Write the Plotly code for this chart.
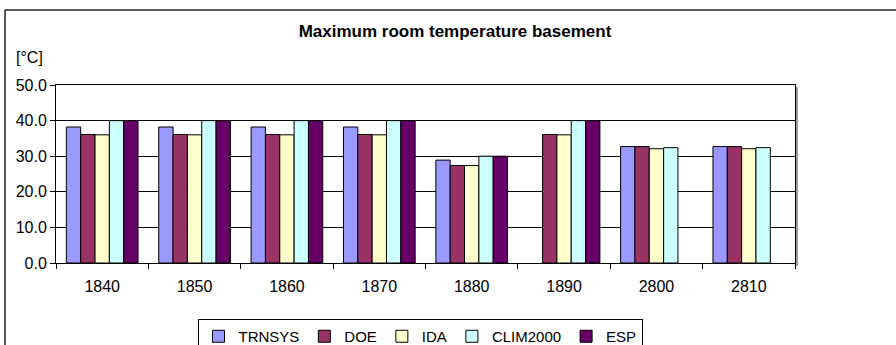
import plotly.graph_objects as go

# Category labels (simulation cases)
cases = ["1840", "1850", "1860", "1870", "1880", "1890", "2800", "2810"]

# Maximum basement room temperature per program [°C]; None = no result
trnsys = [38.2, 38.2, 38.2, 38.2, 28.9, None, 32.7, 32.7]
doe = [36.1, 36.1, 36.1, 36.1, 27.4, 36.1, 32.7, 32.7]
ida = [36.0, 36.0, 36.0, 36.0, 27.4, 36.0, 32.1, 32.1]
clim2000 = [40.0, 40.0, 40.0, 40.0, 30.0, 40.0, 32.4, 32.4]
esp = [40.0, 40.0, 40.0, 40.0, 30.0, 40.0, None, None]

series = [
    ("TRNSYS", trnsys, "#9999FF"),
    ("DOE", doe, "#993366"),
    ("IDA", ida, "#FFFFCC"),
    ("CLIM2000", clim2000, "#CCFFFF"),
    ("ESP", esp, "#660066"),
]

FONT = "Liberation Sans, Arial, sans-serif"

fig = go.Figure()
for name, vals, color in series:
    fig.add_trace(go.Bar(
        name=name, x=cases, y=vals,
        marker=dict(color=color, line=dict(color="black", width=1)),
    ))

W, H = 896, 345
L, R, T, B = 56, 101, 85, 82
pw, ph = W - L - R, H - T - B


def px(x):
    return (x - L) / pw


def py(y):
    return (H - B - y) / ph


fig.update_layout(
    width=W, height=H,
    margin=dict(l=L, r=R, t=T, b=B, autoexpand=False),
    paper_bgcolor="white", plot_bgcolor="white",
    barmode="group", bargap=0.224, bargroupgap=0,
    font=dict(family=FONT, size=16, color="black"),
    title=dict(
        text="<b>Maximum room temperature basement</b>",
        x=455 / W, xanchor="center", y=1 - 31 / H, yanchor="middle",
        font=dict(family=FONT, size=17, color="black"),
    ),
    showlegend=True,
    legend=dict(
        orientation="h", x=px(420), xanchor="center", y=py(319), yanchor="top",
        bordercolor="black", borderwidth=1, bgcolor="white",
        font=dict(family=FONT, size=15, color="black"),
        itemwidth=30, tracegroupgap=0,
    ),
    xaxis=dict(
        showline=True, linecolor="black", linewidth=1, mirror=True,
        ticks="outside", ticklen=5, tickcolor="black", tickson="boundaries",
        showgrid=False, tickfont=dict(size=16), ticklabelstandoff=9,
    ),
    yaxis=dict(
        range=[0, 50], dtick=10, tickformat=".1f",
        showline=True, linecolor="black", linewidth=1, mirror=True,
        ticks="outside", ticklen=5, tickcolor="black",
        showgrid=True, gridcolor="black", gridwidth=1,
        zeroline=False, tickfont=dict(size=16),
    ),
    annotations=[dict(
        text="[°C]", xref="paper", yref="paper",
        x=px(14), xanchor="left", y=py(58), yanchor="middle",
        showarrow=False, font=dict(family=FONT, size=16, color="black"),
    )],
    shapes=[
        # outer chart frame (left and top edges)
        dict(type="line", xref="paper", yref="paper",
             x0=px(5), x1=px(5), y0=py(350), y1=py(10),
             line=dict(color="#222222", width=1.5)),
        dict(type="line", xref="paper", yref="paper",
             x0=px(5), x1=px(900), y0=py(10), y1=py(10),
             line=dict(color="#222222", width=1.5)),
        # soft shadow on the plot-area right edge
        dict(type="line", xref="paper", yref="paper",
             x0=px(797), x1=px(797), y0=py(266), y1=py(87),
             line=dict(color="#999999", width=2)),
    ],
)

fig.write_html("out.html")
